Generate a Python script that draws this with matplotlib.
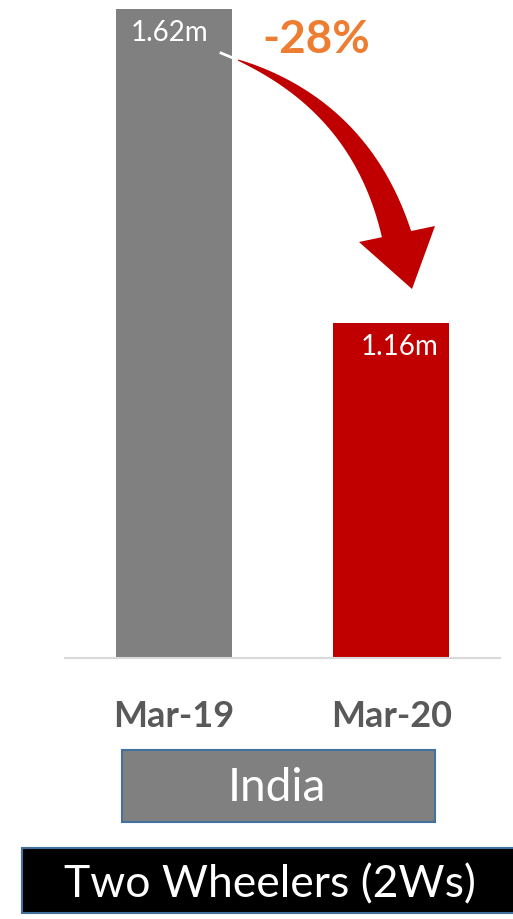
import numpy as np
import matplotlib
matplotlib.use("Agg")
import matplotlib.pyplot as plt
from matplotlib.patches import Rectangle, Polygon
from matplotlib.lines import Line2D

# Two-wheeler sales, India
periods = ["Mar-19", "Mar-20"]
sales_m = [1.62, 1.16]
bar_colors = ["#808080", "#C00000"]
change_label = "-28%"
region_label = "India"
segment_label = "Two Wheelers (2Ws)"

W, H = 513, 919
fig = plt.figure(figsize=(W / 100, H / 100), dpi=100)
fig.patch.set_facecolor("white")

ax = fig.add_axes([65 / W, (H - 658) / H, 435 / W, 658 / H])
x = np.arange(len(periods))
bars = ax.bar(x, sales_m, width=0.532, color=bar_colors, zorder=2)
ax.set_xlim(-0.5, 1.5)
ax.set_ylim(0.669, 1.633)

for s in ["top", "right", "left"]:
    ax.spines[s].set_visible(False)
ax.spines["bottom"].set_color("#D9D9D9")
ax.spines["bottom"].set_linewidth(1.5)
ax.set_yticks([])
ax.set_xticks(x)
ax.set_xticklabels(periods, fontfamily="Lato", fontweight="bold",
                   fontsize=26, color="#595959")
ax.tick_params(axis="x", length=0, pad=30)

# value labels inside the top of each bar
label_shift = [-4, 8]
for xi, v, dx in zip(x, sales_m, label_shift):
    ax.annotate(f"{v:.2f}m", xy=(xi, v), xytext=(dx * 0.72, -8),
                textcoords="offset points", ha="center", va="top",
                color="white", fontsize=20, fontfamily="Lato", zorder=3)

# change label
fig.text(316 / W, 1 - 40 / H, change_label, ha="center", va="center",
         color="#ED7D31", fontsize=33, fontweight="bold", fontfamily="Lato")

# curved tapered arrow (figure pixel coords, y from top)
def px(pts):
    pts = np.asarray(pts, dtype=float)
    return np.column_stack([pts[:, 0] / W, 1 - pts[:, 1] / H])

p0 = np.array([238.0, 60.0])
p1 = np.array([362.0, 108.0])
p2 = np.array([397.0, 236.0])
t = np.linspace(0, 1, 60)
curve = ((1 - t)[:, None] ** 2) * p0 + (2 * (1 - t) * t)[:, None] * p1 + (t ** 2)[:, None] * p2
d = np.gradient(curve, axis=0)
d /= np.linalg.norm(d, axis=1)[:, None]
nrm = np.column_stack([-d[:, 1], d[:, 0]])
width = 1.0 + 29 * t ** 0.85
left = curve + nrm * (width / 2)[:, None]
right = curve - nrm * (width / 2)[:, None]
shaft = np.vstack([left, right[::-1]])
fig.patches.append(Polygon(px(shaft), closed=True, transform=fig.transFigure,
                           facecolor="#C00000", edgecolor="none"))
head = [(359, 242), (435, 226), (412, 289)]
fig.patches.append(Polygon(px(head), closed=True, transform=fig.transFigure,
                           facecolor="#C00000", edgecolor="none"))
tick = px([(221, 53), (233, 58)])
fig.lines.append(Line2D(tick[:, 0], tick[:, 1], transform=fig.transFigure,
                        color="white", linewidth=2))

# region box
fig.patches.append(Rectangle((122 / W, 1 - 822 / H), 313 / W, 72 / H,
                             transform=fig.transFigure, facecolor="#808080",
                             edgecolor="#41719C", linewidth=1.5))
fig.text(277 / W, 1 - 788 / H, region_label, ha="center", va="center",
         color="white", fontsize=33, fontfamily="Lato")

# segment box
fig.patches.append(Rectangle((22 / W, 1 - 913 / H), 500 / W, 65 / H,
                             transform=fig.transFigure, facecolor="black",
                             edgecolor="#41719C", linewidth=1.5))
fig.text(270 / W, 1 - 885 / H, segment_label, ha="center", va="center",
         color="white", fontsize=32, fontfamily="Lato")

fig.savefig("out.png", dpi=100)
